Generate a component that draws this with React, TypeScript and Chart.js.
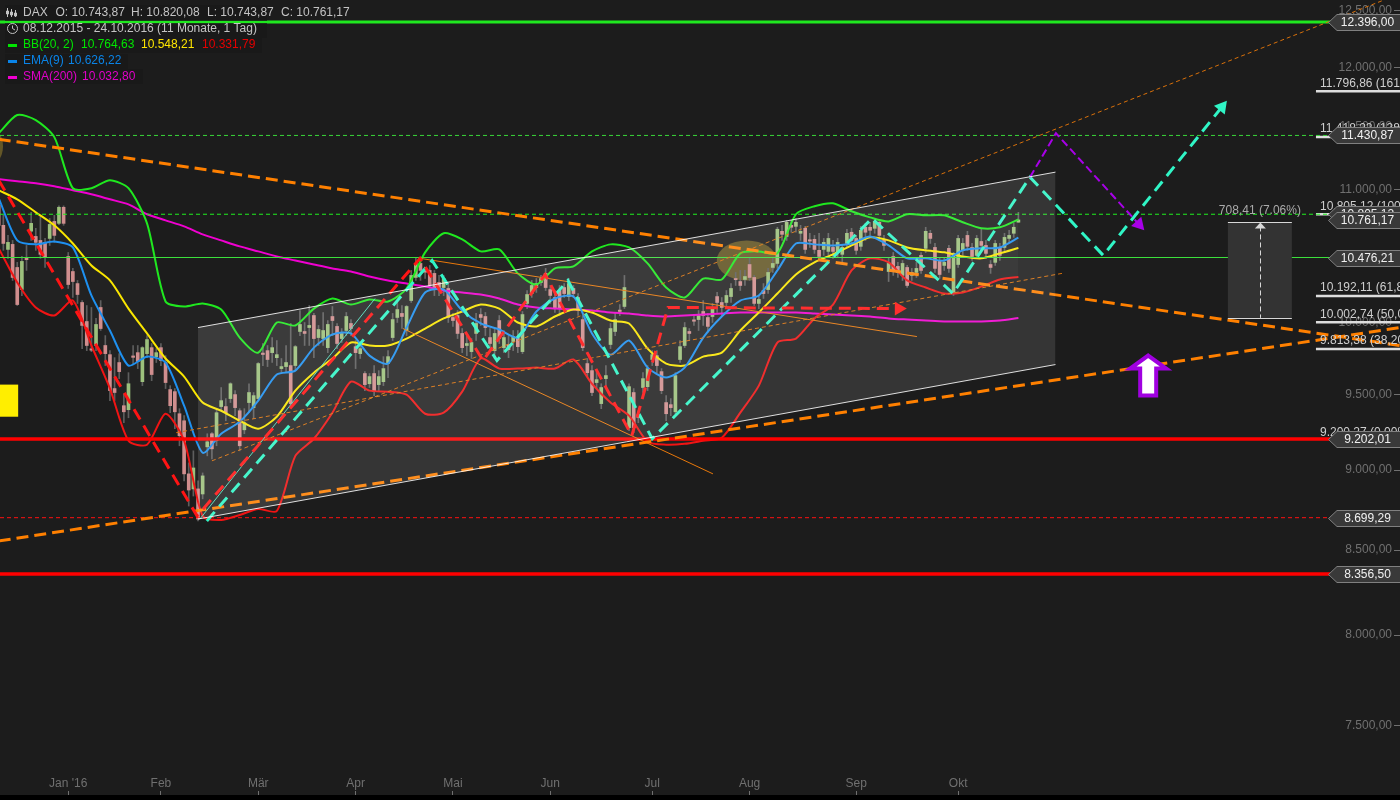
import React, { useEffect, useRef } from "react";
import { Chart, registerables } from "chart.js";

Chart.register(...registerables);

const opens = [
10875,10720,10537,10575,10402,10240,10470,10675,10635,10605,
10590,10620,10750,10735,10859,10484,10372,10283,10145,10008,
9815,9838,10109,9838,9774,9540,9719,9424,9397,9765,
9788,9587,9781,9823,9760,9823,9719,9533,9519,9370,
9323,8976,8880,8880,8848,9151,9237,9191,9418,9418,
9472,9499,9390,9263,9445,9411,9472,9785,9802,9788,
9753,9677,9691,9698,9698,9937,9937,9965,10051,9894,
9887,9823,10044,9973,9887,9944,9994,9830,9781,9643,
9573,9643,9567,9587,9712,9894,10037,10066,9944,10159,
10328,10432,10377,10380,10358,10291,10254,10247,10037,10051,
9923,9838,9795,9923,10058,10044,9894,9802,10015,9823,
9845,9866,9894,9795,10138,10210,10254,10291,10358,10239,
10181,10232,10254,10188,10247,10181,10022,9712,9663,9581,
9438,9608,9845,9937,10090,10116,9277,9513,9363,9547,
9553,9740,9767,9656,9445,9431,9383,9740,9838,9937,
10020,10022,10080,10037,10044,10188,10145,10145,10188,10320,
10298,10313,10424,10328,10138,10232,10239,10402,10432,10674,
10635,10720,10712,10659,10697,10610,10613,10530,10537,10522,
10552,10515,10500,10582,10667,10620,10560,10705,10705,10697,
10743,10605,10372,10484,10410,10343,10402,10343,10365,10492,
10545,10659,10552,10447,10417,10545,10218,10424,10530,10643,
10552,10492,10597,10567,10424,10440,10545,10552,10620,10659,
10743.87];
const highs = [
10950,10797,10643,10605,10440,10485,10567,10820,10697,10797,
10620,10773,10797,10870,10870,10514,10395,10306,10159,10123,
10109,10030,10159,9908,9802,9753,9781,9505,9649,9838,
9838,9830,9908,9852,9816,9852,9767,9560,9540,9404,
9357,9047,9125,8931,8982,9237,9244,9404,9547,9472,
9580,9526,9404,9404,9573,9513,9719,9852,9838,9894,
9873,9747,9838,9994,9838,10087,10001,10123,10066,9980,
10073,10015,10116,9994,9958,10073,10022,9873,9852,9656,
9643,9698,9663,9760,9802,10066,10159,10123,10123,10380,
10470,10470,10395,10417,10380,10343,10343,10283,10066,10087,
9958,9908,9887,10066,10101,10073,9958,9958,10051,9944,
9908,9944,9944,10080,10232,10306,10320,10343,10395,10269,
10232,10269,10283,10320,10269,10210,10051,9747,9698,9663,
9573,9698,9994,10073,10130,10343,9573,9540,9390,9649,
9698,9802,9802,9677,9492,9472,9649,9873,10001,9958,
10051,10087,10159,10066,10138,10218,10181,10232,10283,10365,
10380,10380,10470,10343,10196,10283,10395,10470,10705,10720,
10758,10758,10773,10720,10712,10659,10643,10659,10620,10659,
10605,10620,10567,10690,10697,10643,10712,10735,10743,10765,
10765,10643,10470,10514,10440,10454,10417,10395,10440,10514,
10705,10682,10582,10470,10470,10567,10514,10643,10620,10674,
10582,10643,10697,10605,10454,10605,10582,10659,10682,10735,
10820.08];
const lows = [
10454,10530,10470,10306,10123,10195,10380,10605,10530,10470,
10402,10567,10590,10725,10720,10247,10182,10138,9816,9802,
9795,9802,9944,9698,9458,9458,9608,9310,9343,9712,
9677,9560,9753,9594,9719,9698,9540,9377,9270,9158,
8931,8772,8835,8679,8817,9092,9073,9158,9390,9323,
9445,9357,9125,9237,9377,9337,9458,9698,9691,9719,
9698,9649,9649,9411,9663,9908,9838,9838,9753,9838,
9838,9788,9908,9816,9859,9908,9908,9677,9747,9526,
9547,9492,9526,9560,9615,9873,10001,9958,9908,10145,
10306,10306,10320,10247,10195,10195,10195,10001,9973,9887,
9788,9767,9747,9873,9980,9908,9802,9747,9852,9788,
9753,9802,9788,9781,10101,10182,10218,10269,10232,10138,
10073,10051,10181,10159,10181,10051,9802,9622,9492,9540,
9404,9560,9816,9908,10050,10101,9257,9244,9310,9513,
9526,9698,9649,9505,9323,9357,9370,9719,9823,9873,
9980,9944,9980,9930,10001,10073,10051,10109,10145,10269,
10232,10269,10306,10123,10101,10174,10210,10365,10395,10605,
10605,10667,10667,10605,10507,10552,10507,10454,10492,10492,
10470,10477,10440,10552,10567,10500,10530,10605,10643,10659,
10605,10530,10298,10343,10328,10306,10254,10306,10328,10358,
10514,10582,10365,10320,10380,10365,10196,10402,10492,10530,
10454,10470,10530,10470,10358,10417,10454,10515,10590,10628,
10743.87];
const closes = [
10720,10582,10590,10328,10130,10447,10460,10735,10590,10500,
10477,10727,10643,10859,10735,10276,10298,10203,9980,9838,
9805,9987,9958,9781,9526,9513,9656,9383,9573,9755,
9726,9823,9880,9636,9788,9733,9581,9424,9383,9224,
8976,8873,9014,8691,8963,9184,9138,9377,9458,9377,
9573,9411,9158,9310,9513,9492,9712,9775,9740,9823,
9774,9691,9719,9438,9830,9987,9923,9980,9887,9951,
9944,9987,10015,9852,9923,10044,9958,9788,9816,9567,
9622,9519,9622,9677,9760,10022,10094,10044,10116,10343,
10432,10380,10367,10269,10247,10254,10320,10037,10015,9923,
9823,9852,9859,9994,10037,9965,9852,9923,9887,9894,
9809,9901,9830,10058,10203,10269,10283,10320,10254,10196,
10101,10101,10210,10283,10210,10087,9823,9649,9513,9601,
9547,9629,9958,10022,10080,10254,9553,9277,9345,9608,
9677,9774,9698,9526,9370,9411,9629,9830,9965,9923,
10010,10051,10051,9973,10109,10145,10109,10196,10247,10312,
10269,10335,10328,10138,10167,10210,10365,10432,10690,10651,
10743,10705,10743,10674,10537,10600,10537,10484,10590,10620,
10522,10590,10552,10659,10605,10530,10682,10667,10682,10750,
10643,10567,10432,10380,10365,10432,10269,10365,10395,10380,
10674,10620,10395,10350,10440,10395,10507,10620,10582,10560,
10484,10620,10567,10507,10402,10582,10492,10628,10643,10705,
10761.17];

const indicatorBars = [0,4,8,12,16,20,24,28,32,36,40,44,48,52,56,60,64,68,72,76,80,84,88,92,96,100,104,108,112,116,120,124,128,132,136,140,144,148,152,156,160,164,168,172,176,180,184,188,192,196,200,204,208,212,216,220];
const bbUpper = [11449,11599,11557,11417,11008,11008,11071,11008,10735,10152,10116,10138,10094,9894,9788,10001,9980,10101,10174,10130,10167,10152,10247,10515,10659,10613,10522,10537,10358,10276,10395,10410,10522,10575,10552,10432,10254,10181,10320,10313,10507,10522,10507,10805,10867,10890,10828,10781,10750,10805,10797,10797,10743,10697,10705,10764.63];
const bbLower = [10545,10291,10109,10051,10159,9838,9540,9191,9165,9370,9191,8710,8685,8716,8754,8741,9092,9204,9377,9587,9526,9519,9499,9370,9377,9519,9747,9677,9677,9684,9677,9740,9573,9445,9357,9184,9165,9171,9191,9211,9377,9560,9859,9887,10030,10130,10380,10470,10440,10306,10254,10210,10218,10261,10313,10331.79];
const bbMiddle = [10992,10921,10820,10720,10582,10417,10306,10101,9923,9747,9622,9445,9390,9323,9270,9350,9526,9649,9747,9859,9838,9838,9887,9958,10030,10080,10130,10101,10001,9973,10044,10094,10073,10015,9994,9816,9712,9698,9760,9788,9944,10073,10210,10350,10440,10500,10567,10628,10605,10552,10530,10515,10484,10470,10507,10548.21];
const ema9 = [10929,10605,10575,10597,10552,10196,9944,9698,9760,9719,9424,9112,9237,9316,9458,9636,9663,9823,9916,9923,9767,9712,9965,10218,10239,10087,9994,9951,9894,10080,10174,10188,9923,9774,9873,9684,9615,9684,9894,10044,10159,10196,10380,10582,10575,10567,10582,10635,10567,10470,10470,10454,10530,10545,10552,10626.22];
const sma200 = [11079,11063,11047,11024,10992,10960,10921,10882,10805,10758,10712,10651,10605,10560,10522,10484,10454,10424,10395,10372,10335,10306,10283,10261,10232,10218,10203,10174,10130,10109,10101,10094,10087,10073,10066,10051,10044,10051,10058,10066,10073,10073,10073,10073,10066,10058,10051,10044,10030,10022,10015,10008,10008,10008,10015,10032.8];

const redPathBars = [0,42.8,90.9,104.5,117.9,136.6,144.4,194.2];
const redPathPrices = [11071,8710,10470,9733,10350,9224,10109,10101];
const tealPathBars = [44.9,93.5,107.5,122.8,141,188.4,205.9,222.5,238.3,263.9];
const tealPathPrices = [8679,10454,9733,10306,9204,10773,10210,11095,10492,11665];
const purplePathBars = [222.5,228.1,246];
const purplePathPrices = [11095,11449,10728];

const monthBars = [15,35,56,77,98,119,141,162,185,207];
const monthLabels = ["Jan '16","Feb","Mär","Apr","Mai","Jun","Jul","Aug","Sep","Okt"];
const priceTicks = [7500,8000,8500,9000,9500,10000,11000,11500,12000,12500];

const fibLevels = [11796.86,11418.22,10805.12,10192.11,10002.74,9813.38];
const fibLabels = ["11.796,86 (161,80%)","11.418,22 (138,20%)","10.805,12 (100,00%)","10.192,11 (61,80%)","10.002,74 (50,00%)","9.813,38 (38,20%)"];
const zeroFibLevel = 9200.27;
const zeroFibLabel = "9.200,27 (0,00%)";

const tagPrices = [12396,11430.87,10805.12,10761.17,10476.21,9202.01,8699.29,8356.5];
const tagLabels = ["12.396,00","11.430,87","10.805,12","10.761,17","10.476,21","9.202,01","8.699,29","8.356,50"];

const GREEN = "#1fe81f";
const fmt = (v: number) => v.toLocaleString("de-DE", { minimumFractionDigits: 2, maximumFractionDigits: 2 });
const X_MIN = 0.28;
const X_MAX = 302.33;

const seg = (x: number[], y: number[]) => x.map((v, i) => ({ x: v, y: y[i] }));
const hline = (p: number, color: string, w: number, dash: number[] = [], order = 40, from = X_MIN) => ({
  type: "line" as const, data: seg([from, X_MAX], [p, p]), borderColor: color, borderWidth: w, borderDash: dash, pointRadius: 0, order,
});
const tline = (x: number[], y: number[], color: string, w: number, dash: number[] = [], order = 30) => ({
  type: "line" as const, data: seg(x, y), borderColor: color, borderWidth: w, borderDash: dash, pointRadius: 0, order,
});
const curve = (y: number[], color: string, order: number) => ({
  type: "line" as const, data: seg(indicatorBars, y), borderColor: color, borderWidth: 2, pointRadius: 0, tension: 0.25, order,
});
const arrowPath = (x: number[], y: number[], color: string, rot: number, w = 3, dash = [12, 7]) => ({
  type: "line" as const, data: seg(x, y), borderColor: color, borderWidth: w, borderDash: dash, order: 20,
  pointStyle: "triangle", pointRotation: rot, pointBackgroundColor: color, pointBorderColor: color, pointBorderWidth: 0,
  pointRadius: (c: any) => (c.dataIndex === x.length - 1 ? 8 : 0),
});
const noPad = (s: any) => { s.paddingLeft = 0; s.paddingRight = 0; s.paddingTop = 0; s.paddingBottom = 0; };

const overlay = {
  id: "overlay",
  beforeDraw(chart: any) {
    const { ctx, width, height } = chart;
    ctx.save();
    ctx.fillStyle = "#1c1c1c";
    ctx.fillRect(0, 0, width, height);
    ctx.fillStyle = "#000";
    ctx.fillRect(0, 795, width, 5);
    ctx.restore();
  },
  beforeDatasetsDraw(chart: any) {
    const { ctx } = chart;
    const xs = chart.scales.x, ys = chart.scales.y;
    ctx.save();
    ctx.fillStyle = "rgba(190,160,40,0.42)";
    ctx.beginPath();
    ctx.ellipse(xs.getPixelForValue(161.4), ys.getPixelForValue(10454), 30, 20, 0, 0, 7);
    ctx.fill();
    ctx.beginPath();
    ctx.ellipse(xs.getPixelForValue(-2.3), ys.getPixelForValue(11343), 15, 20, 0, 0, 7);
    ctx.fill();
    ctx.restore();
  },
  afterDatasetsDraw(chart: any) {
    const { ctx } = chart;
    const xs = chart.scales.x, ys = chart.scales.y;
    const px = (v: number) => xs.getPixelForValue(v), py = (v: number) => ys.getPixelForValue(v);
    ctx.save();
    ctx.font = '12px "Liberation Sans"';
    ctx.textBaseline = "middle";

    // yellow marker
    ctx.fillStyle = "#ffee00";
    ctx.fillRect(px(X_MIN), py(9567), px(4.2) - px(X_MIN), py(9350) - py(9567));

    // measure box
    const bx0 = px(265.2), bx1 = px(279), bt = py(10742), bb = py(10034), bm = (bx0 + bx1) / 2;
    ctx.fillStyle = "#333333";
    ctx.fillRect(bx0, bt, bx1 - bx0, bb - bt);
    ctx.strokeStyle = "#d8d8d8";
    ctx.lineWidth = 1;
    ctx.beginPath();
    ctx.moveTo(bx0, Math.round(bt) + 0.5); ctx.lineTo(bx1, Math.round(bt) + 0.5);
    ctx.moveTo(bx0, Math.round(bb) + 0.5); ctx.lineTo(bx1, Math.round(bb) + 0.5);
    ctx.stroke();
    ctx.setLineDash([5, 3]);
    ctx.beginPath();
    ctx.moveTo(Math.round(bm) + 0.5, bt + 4); ctx.lineTo(Math.round(bm) + 0.5, bb);
    ctx.stroke();
    ctx.setLineDash([]);
    ctx.fillStyle = "#d8d8d8";
    ctx.beginPath();
    ctx.moveTo(bm + 0.5, bt); ctx.lineTo(bm + 6, bt + 6); ctx.lineTo(bm - 5, bt + 6);
    ctx.closePath(); ctx.fill();
    ctx.fillStyle = "#aaaaaa";
    ctx.textAlign = "center";
    ctx.fillText("708,41 (7.06%)", bm, bt - 12);

    // purple block arrow
    const ax = px(248), ay = py(9629);
    ctx.fillStyle = "#ffffff";
    ctx.strokeStyle = "#a000e0";
    ctx.lineWidth = 4;
    ctx.lineJoin = "miter";
    ctx.beginPath();
    ctx.moveTo(ax, ay - 20);
    ctx.lineTo(ax + 18, ay - 7);
    ctx.lineTo(ax + 8, ay - 7);
    ctx.lineTo(ax + 8, ay + 20);
    ctx.lineTo(ax - 8, ay + 20);
    ctx.lineTo(ax - 8, ay - 7);
    ctx.lineTo(ax - 18, ay - 7);
    ctx.closePath();
    ctx.fill(); ctx.stroke();

    // fibonacci labels
    ctx.textAlign = "left";
    ctx.fillStyle = "#cfcfcf";
    fibLevels.forEach((v, i) => ctx.fillText(fibLabels[i], 1320, py(v) - 8));
    ctx.fillText(zeroFibLabel, 1320, py(zeroFibLevel) - 7);

    // price tags
    tagPrices.forEach((v, i) => {
      const y = Math.round(py(v)) + 0.5;
      ctx.beginPath();
      ctx.moveTo(1328.5, y);
      ctx.lineTo(1337, y - 8);
      ctx.lineTo(1401, y - 8);
      ctx.lineTo(1401, y + 8);
      ctx.lineTo(1337, y + 8);
      ctx.closePath();
      ctx.fillStyle = "#393939";
      ctx.fill();
      ctx.strokeStyle = "#808080";
      ctx.lineWidth = 1;
      ctx.stroke();
      ctx.fillStyle = "#f0f0f0";
      ctx.textAlign = "center";
      ctx.fillText(tagLabels[i], 1367.5, y + 0.5);
    });

    // legend
    ctx.textAlign = "left";
    const bg = "rgba(24,24,24,0.7)";
    const rows: [number, number, number][] = [[5, 262, 16], [23, 262, 15], [38, 257, 15], [54, 123, 15], [69, 138, 15]];
    ctx.fillStyle = bg;
    rows.forEach(([y, w, h]) => ctx.fillRect(5, y, w, h));
    const T = "#c4c4c4";
    const put = (s: string, x: number, y: number, c: string) => { ctx.fillStyle = c; ctx.fillText(s, x, y); };
    put("DAX", 23, 13, T);
    put("O: 10.743,87", 55.5, 13, T);
    put("H: 10.820,08", 131, 13, T);
    put("L: 10.743,87", 207, 13, T);
    put("C: 10.761,17", 281, 13, T);
    put("08.12.2015 - 24.10.2016 (11 Monate, 1 Tag)", 23, 29, T);
    put("BB(20, 2)", 23, 45, "#00e600");
    put("10.764,63", 81, 45, "#00e600");
    put("10.548,21", 141, 45, "#ffe600");
    put("10.331,79", 202, 45, "#e60000");
    put("EMA(9)", 23, 61, "#0a84e8");
    put("10.626,22", 68, 61, "#0a84e8");
    put("SMA(200)", 23, 77, "#e000c8");
    put("10.032,80", 82, 77, "#e000c8");
    // legend swatches
    ctx.fillStyle = "#00e600"; ctx.fillRect(8, 44, 9, 3);
    ctx.fillStyle = "#0a84e8"; ctx.fillRect(8, 60, 9, 3);
    ctx.fillStyle = "#f000d0"; ctx.fillRect(8, 76, 9, 3);
    // icons
    ctx.strokeStyle = T;
    ctx.lineWidth = 1;
    ctx.beginPath();
    ctx.arc(12.5, 28.5, 5, 0, 7);
    ctx.moveTo(12.5, 25.5); ctx.lineTo(12.5, 28.5); ctx.lineTo(15, 30);
    [7.5, 11.5, 15.5].forEach((x, k) => {
      ctx.moveTo(x, 8 + k); ctx.lineTo(x, 17);
      ctx.rect(x - 1, 11 + k, 2, 3);
    });
    ctx.stroke();
    ctx.restore();
  },
};

const App = () => {
  const ref = useRef<HTMLCanvasElement | null>(null);
  useEffect(() => {
    const wicks = opens.map((_, i) => ({ x: i, y: [lows[i], highs[i]] }));
    const bodies = opens.map((o, i) => ({ x: i, y: [o, closes[i]] }));
    const isUp = (i: number) => closes[i] >= opens[i];
    const datasets: any[] = [
      { type: "line", data: seg(indicatorBars, bbUpper), borderWidth: 0, borderColor: "transparent", pointRadius: 0, tension: 0.25, fill: "+1", backgroundColor: "rgba(255,255,255,0.028)", order: 90 },
      { type: "line", data: seg(indicatorBars, bbLower), borderWidth: 0, borderColor: "transparent", pointRadius: 0, tension: 0.25, order: 90 },
      { type: "bar", data: wicks, grouped: false, barThickness: 1, backgroundColor: "#5e5e5e", borderWidth: 0, order: 80 },
      {
        type: "bar", data: bodies, grouped: false, barThickness: 3, borderWidth: 0, borderSkipped: false,
        backgroundColor: opens.map((_, i) => (isUp(i) ? "#9cc07c" : "#d08e8e")),
        order: 79,
      },
      curve(sma200, "#f000d0", 60),
      curve(bbUpper, GREEN, 59),
      curve(bbLower, "#f01414", 58),
      curve(bbMiddle, "#fae600", 57),
      curve(ema9, "#1e90f0", 56),
      hline(12396, GREEN, 3),
      hline(11430.87, "#39d839", 1, [4, 3]),
      hline(10805.12, "#20f020", 1, [4, 3]),
      hline(10476.21, "#3ce03c", 1),
      hline(9202.01, "#ff0000", 3.5),
      hline(8699.29, "#ff1010", 1, [4, 3]),
      hline(8356.5, "#ff0000", 3.5),
      ...fibLevels.map((v) => hline(v, "#dddddd", 2.5, [], 41, 284.2)),
      tline([0, 302.33], [11400, 9838], "#ff8000", 3, [12, 6], 25),
      tline([0, 302.33], [8556, 9965], "#ff8000", 3, [12, 6], 25),
      tline([90.9, 198.1], [10470, 9901], "#e8780a", 1),
      tline([87.2, 154.1], [9958, 8976], "#e8780a", 1),
      tline([38.3, 229.4], [9244, 10358], "#d8700a", 1, [4, 3]),
      tline([46, 299], [9060, 12594], "#d8700a", 1, [4, 3]),
      tline([43.4, 81.2], [8691, 10174], "#50d8b8", 1),
      arrowPath(redPathBars, redPathPrices, "#ff1414", 90),
      arrowPath(purplePathBars, purplePathPrices, "#a800e8", 137.5, 2, [8, 4]),
      arrowPath(tealPathBars, tealPathPrices, "#30f5c6", 39),
      { type: "line", data: seg([43, 228], [9965, 11135]), borderColor: "rgba(255,255,255,0.85)", borderWidth: 1, pointRadius: 0, fill: "+1", backgroundColor: "rgba(255,255,255,0.115)", order: 1 },
      { type: "line", data: seg([43, 228], [8691, 9705]), borderColor: "rgba(255,255,255,0.85)", borderWidth: 1, pointRadius: 0, order: 1 },
    ];
    Chart.defaults.font.family = '"Liberation Sans"';
    Chart.defaults.font.size = 12;
    const chart = new Chart(ref.current as HTMLCanvasElement, {
      type: "line",
      data: { datasets },
      plugins: [overlay],
      options: {
        animation: false,
        responsive: false,
        devicePixelRatio: 1,
        events: [],
        layout: { autoPadding: false, padding: { bottom: 5 } },
        plugins: { legend: { display: false }, tooltip: { enabled: false } },
        scales: {
          x: {
            type: "linear", min: X_MIN, max: X_MAX, offset: false,
            grid: { offset: false, drawOnChartArea: false, drawTicks: true, tickLength: -4, color: "#707070" },
            border: { display: false },
            afterBuildTicks: (s: any) => { s.ticks = monthBars.map((v) => ({ value: v })); },
            afterFit: (s: any) => { s.height = 0; noPad(s); },
            ticks: {
              autoSkip: false, maxRotation: 0, mirror: true, padding: 4, color: "#707070",
              callback: (_v: any, i: number) => monthLabels[i],
            },
          },
          y: {
            type: "logarithmic", position: "right", min: 7136, max: 12592, bounds: "data",
            grid: { drawOnChartArea: false, drawTicks: true, tickLength: -6, color: "#707070" },
            border: { display: false },
            afterBuildTicks: (s: any) => { s.ticks = priceTicks.map((v) => ({ value: v })); },
            afterFit: (s: any) => { s.width = 0; noPad(s); },
            ticks: {
              autoSkip: false, mirror: true, padding: -8, color: "#707070",
              callback: (v: any) => fmt(Number(v)),
            },
          },
        },
      } as any,
    });
    return () => chart.destroy();
  }, []);
  return (
    <div style={{ position: "fixed", left: 0, top: 0, width: 1400, height: 800, background: "#1c1c1c" }}>
      <canvas ref={ref} width={1400} height={800} style={{ display: "block" }} />
    </div>
  );
};

export default App;
